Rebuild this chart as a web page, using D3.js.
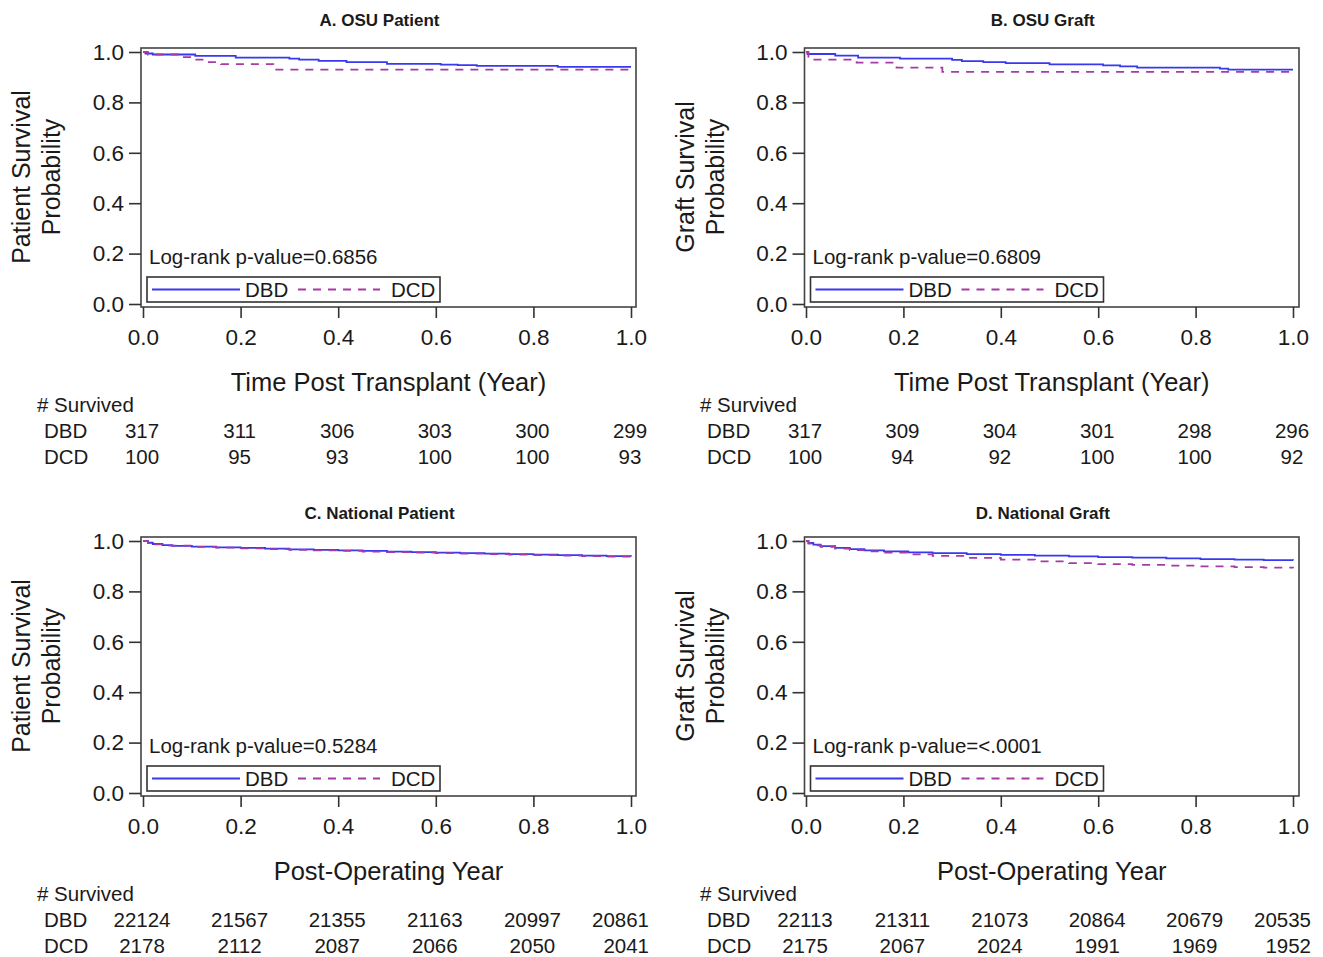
<!DOCTYPE html>
<html><head><meta charset="utf-8">
<script src="https://cdn.jsdelivr.net/npm/d3@7"></script>
<style>
body{margin:0;background:#fff;}
svg{font-family:"Liberation Sans",Arial,Helvetica,sans-serif;}
</style></head>
<body>
<svg id="c" width="1323" height="957"></svg>
<script>
// ---------- data ----------
const xTicks = [0.0, 0.2, 0.4, 0.6, 0.8, 1.0];
const yTicks = [0.0, 0.2, 0.4, 0.6, 0.8, 1.0];
const groups = ["DBD", "DCD"];
const titles = ["A. OSU Patient", "B. OSU Graft", "C. National Patient", "D. National Graft"];
const yLabels = [["Patient Survival","Probability"],["Graft Survival","Probability"],["Patient Survival","Probability"],["Graft Survival","Probability"]];
const xLabels = ["Time Post Transplant (Year)", "Time Post Transplant (Year)", "Post-Operating Year", "Post-Operating Year"];
const pValues = ["Log-rank p-value=0.6856", "Log-rank p-value=0.6809", "Log-rank p-value=0.5284", "Log-rank p-value=<.0001"];

const survA_DBD = [317, 311, 306, 303, 300, 299];
const survA_DCD = [100, 95, 93, 100, 100, 93];
const survB_DBD = [317, 309, 304, 301, 298, 296];
const survB_DCD = [100, 94, 92, 100, 100, 92];
const survC_DBD = [22124, 21567, 21355, 21163, 20997, 20861];
const survC_DCD = [2178, 2112, 2087, 2066, 2050, 2041];
const survD_DBD = [22113, 21311, 21073, 20864, 20679, 20535];
const survD_DCD = [2175, 2067, 2024, 1991, 1969, 1952];

// Kaplan-Meier step points [time, survival]
const kmA_DBD = [[0,1],[0.005,0.994],[0.02,0.99],[0.107,0.985],[0.19,0.978],[0.30,0.974],[0.32,0.970],[0.36,0.965],[0.417,0.960],[0.50,0.953],[0.61,0.950],[0.645,0.948],[0.684,0.945],[0.85,0.941],[1.0,0.941]];
const kmA_DCD = [[0,1],[0.01,0.99],[0.076,0.98],[0.107,0.97],[0.133,0.96],[0.16,0.952],[0.267,0.93],[1.0,0.93]];
const kmB_DBD = [[0,1],[0.003,0.992],[0.06,0.986],[0.107,0.978],[0.193,0.974],[0.30,0.969],[0.32,0.964],[0.364,0.960],[0.41,0.956],[0.50,0.951],[0.61,0.947],[0.645,0.943],[0.68,0.938],[0.85,0.934],[0.867,0.930],[1.0,0.930]];
const kmB_DCD = [[0,1],[0.005,0.97],[0.104,0.958],[0.186,0.938],[0.28,0.921],[1.0,0.921]];
const kmC_DBD = [[0,1],[0.01,0.993],[0.02,0.988],[0.04,0.984],[0.06,0.981],[0.10,0.978],[0.15,0.975],[0.20,0.973],[0.25,0.970],[0.30,0.967],[0.35,0.965],[0.40,0.963],[0.45,0.961],[0.50,0.958],[0.55,0.956],[0.60,0.954],[0.65,0.952],[0.70,0.950],[0.75,0.948],[0.80,0.946],[0.85,0.944],[0.90,0.942],[0.95,0.940],[1.0,0.938]];
const kmC_DCD = [[0,1],[0.01,0.992],[0.02,0.987],[0.05,0.982],[0.10,0.977],[0.15,0.974],[0.20,0.971],[0.25,0.968],[0.30,0.965],[0.35,0.963],[0.40,0.961],[0.45,0.958],[0.50,0.956],[0.55,0.954],[0.60,0.952],[0.65,0.950],[0.70,0.948],[0.75,0.946],[0.80,0.944],[0.85,0.942],[0.90,0.940],[0.95,0.938],[1.0,0.936]];
const kmD_DBD = [[0,1],[0.005,0.992],[0.015,0.986],[0.03,0.980],[0.06,0.973],[0.09,0.968],[0.12,0.963],[0.16,0.959],[0.21,0.955],[0.26,0.952],[0.33,0.948],[0.40,0.945],[0.47,0.942],[0.54,0.939],[0.60,0.936],[0.67,0.934],[0.74,0.931],[0.81,0.928],[0.88,0.926],[0.94,0.924],[1.0,0.923]];
const kmD_DCD = [[0,1],[0.005,0.990],[0.015,0.983],[0.03,0.977],[0.06,0.970],[0.09,0.964],[0.12,0.959],[0.16,0.954],[0.21,0.947],[0.26,0.941],[0.33,0.933],[0.40,0.926],[0.47,0.919],[0.54,0.912],[0.60,0.908],[0.67,0.905],[0.74,0.902],[0.81,0.899],[0.88,0.896],[0.94,0.894],[1.0,0.892]];

const kmData = [[kmA_DBD, kmA_DCD],[kmB_DBD, kmB_DCD],[kmC_DBD, kmC_DCD],[kmD_DBD, kmD_DCD]];
const survData = [[survA_DBD, survA_DCD],[survB_DBD, survB_DCD],[survC_DBD, survC_DCD],[survD_DBD, survD_DCD]];

// ---------- layout ----------
const colors = {DBD:"#3838f0", DCD:"#a53aa8"};
const svg = d3.select("#c");
const font = '"Liberation Sans",Arial,Helvetica,sans-serif';
const ink = "#1a1a1a";

function panel(i){
  const col = i % 2, row = Math.floor(i/2);
  const dx = col ? 663.5 : 0, dy = row ? 489 : 0;
  const fx0 = 141 + dx, fx1 = 636 + dx - (col?0.5:0), fy0 = 48 + dy, fy1 = 307 + dy;
  const x = d3.scaleLinear().domain([0,1]).range([143 + dx - (col?0.5:0), 631 + dx - (col?1.5:0)]);
  const y = d3.scaleLinear().domain([0,1]).range([304 + dy, 52 + dy]);
  const g = svg.append("g");

  // title
  g.append("text").attr("x", (fx0+fx1)/2 - 9).attr("y", 26 + dy + (row?4:0))
    .attr("text-anchor","middle").attr("font-weight","bold").attr("font-size",17).attr("fill",ink).text(titles[i]);

  // curves
  const line = d3.line().x(d=>x(d[0])).y(d=>y(d[1])).curve(d3.curveStepAfter);
  g.append("path").datum(kmData[i][0]).attr("d", line).attr("fill","none")
    .attr("stroke", colors.DBD).attr("stroke-width", 1.8);
  g.append("path").datum(kmData[i][1]).attr("d", line).attr("fill","none")
    .attr("stroke", colors.DCD).attr("stroke-width", 1.8).attr("stroke-dasharray","8,7");

  // frame
  g.append("rect").attr("x", fx0).attr("y", fy0).attr("width", fx1-fx0).attr("height", fy1-fy0)
    .attr("fill","none").attr("stroke","#444").attr("stroke-width",1.6);

  // y axis
  const ya = g.append("g").attr("transform",`translate(${fx0},0)`)
    .call(d3.axisLeft(y).tickValues(yTicks).tickFormat(d3.format(".1f")).tickSize(12).tickPadding(5));
  ya.select(".domain").remove();
  ya.selectAll("line").attr("stroke","#333").attr("stroke-width",1.6);
  ya.selectAll("text").attr("font-size",22.5).attr("font-family",font).attr("fill",ink);

  // x axis
  const xa = g.append("g").attr("transform",`translate(0,${fy1})`)
    .call(d3.axisBottom(x).tickValues(xTicks).tickFormat(d3.format(".1f")).tickSize(11).tickPadding(11));
  xa.select(".domain").remove();
  xa.selectAll("line").attr("stroke","#333").attr("stroke-width",1.6);
  xa.selectAll("text").attr("font-size",22.5).attr("font-family",font).attr("fill",ink);

  // x label
  g.append("text").attr("x",(fx0+fx1)/2).attr("y", 391 + dy).attr("text-anchor","middle")
    .attr("font-size",25.5).attr("fill",ink).text(xLabels[i]);

  // y label (two lines)
  const cy = 177 + dy;
  [0,1].forEach(k=>{
    g.append("text").attr("transform",`translate(${30 + dx + k*30},${cy}) rotate(-90)`)
      .attr("text-anchor","middle").attr("font-size",25).attr("fill",ink).text(yLabels[i][k]);
  });

  // p-value
  g.append("text").attr("x", fx0+8).attr("y", 264 + dy).attr("font-size",20.5).attr("fill",ink).text(pValues[i]);

  // legend
  const lx = fx0 + 6, ly = 277 + dy;
  g.append("rect").attr("x", lx).attr("y", ly).attr("width", 293).attr("height", 25)
    .attr("fill","none").attr("stroke","#333").attr("stroke-width",1.6);
  g.append("line").attr("x1", lx+5).attr("x2", lx+93).attr("y1", ly+12.5).attr("y2", ly+12.5)
    .attr("stroke", colors.DBD).attr("stroke-width",1.8);
  g.append("text").attr("x", lx+98).attr("y", ly+20).attr("font-size",20.5).attr("fill",ink).text(groups[0]);
  g.append("line").attr("x1", lx+151).attr("x2", lx+233).attr("y1", ly+12.5).attr("y2", ly+12.5)
    .attr("stroke", colors.DCD).attr("stroke-width",1.8).attr("stroke-dasharray","8,7");
  g.append("text").attr("x", lx+244).attr("y", ly+20).attr("font-size",20.5).attr("fill",ink).text(groups[1]);

  // number survived table
  const tx = 37 + dx - (col?0.5:0);
  const rightLimit = x(1) + 18;
  g.append("text").attr("x", tx).attr("y", 412 + dy).attr("font-size",20.5).attr("fill",ink).text("# Survived");
  groups.forEach((gr,k)=>{
    const ty = 438 + dy + k*26;
    g.append("text").attr("x", tx+7).attr("y", ty).attr("font-size",20.5).attr("fill",ink).text(gr);
    survData[i][k].forEach((v,j)=>{
      const t = g.append("text").attr("y", ty).attr("text-anchor","middle")
        .attr("font-size",20.5).attr("fill",ink).text(v);
      const w = t.node().getComputedTextLength();
      const cx = Math.min(x(xTicks[j]) - 1, rightLimit - w/2);
      t.attr("x", cx);
    });
  });
}
[0,1,2,3].forEach(panel);
</script>
</body></html>
